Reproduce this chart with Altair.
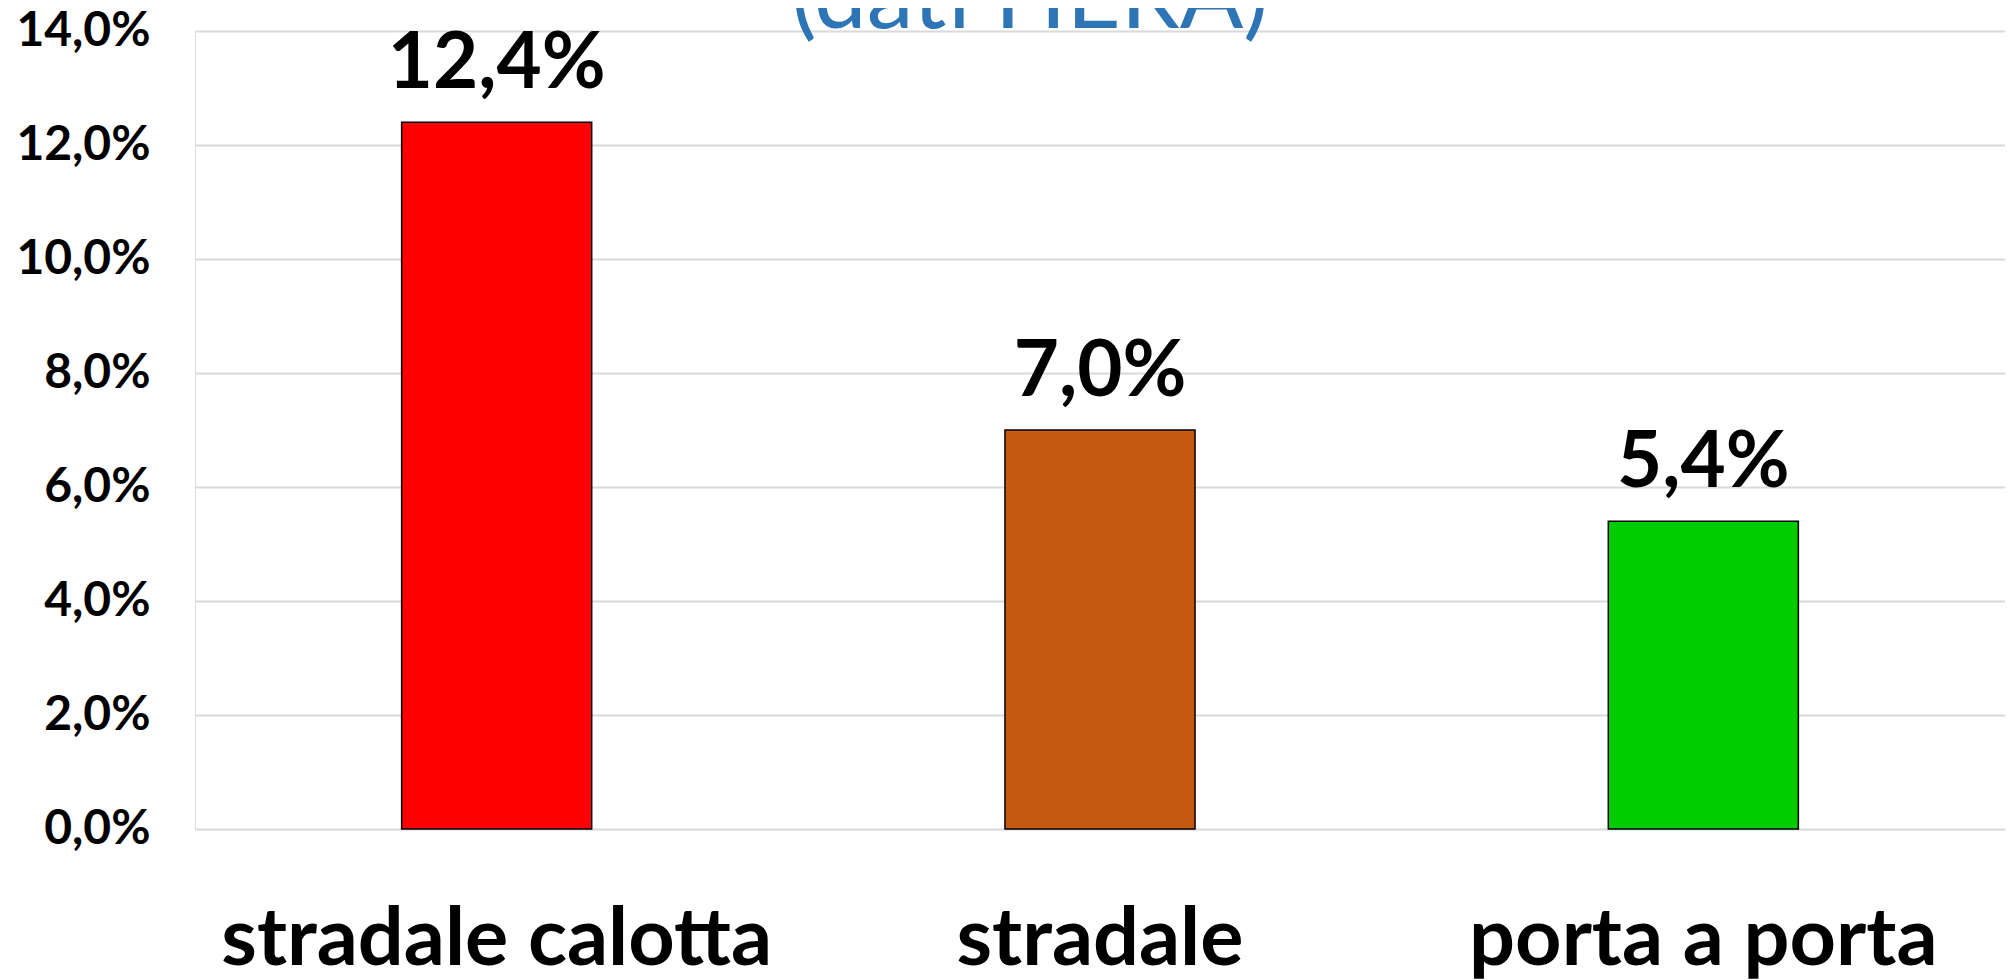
import altair as alt
import pandas as pd

categories = ["stradale calotta", "stradale", "porta a porta"]
values = [12.4, 7.0, 5.4]
colors = ["#FF0000", "#C55A11", "#00CC00"]
y_ticks = [0, 2, 4, 6, 8, 10, 12, 14]
title_text = "(dati HERA)"

df = pd.DataFrame({"cat": categories, "val": values, "col": colors})
df["lab"] = [f"{v:.1f}".replace(".", ",") + "%" for v in values]

W = 1810
H = 798

x_enc = alt.X(
    "cat:N",
    sort=categories,
    scale=alt.Scale(paddingInner=0.685, paddingOuter=0.3425),
    axis=alt.Axis(
        title=None, labelAngle=0, ticks=False, domain=False, grid=False,
        labelFont="Lato", labelFontWeight="bold", labelFontSize=81,
        labelColor="#000000", labelPadding=135, labelBaseline="alphabetic",
        labelLimit=0, labelOverlap=False,
    ),
)
y_enc = alt.Y(
    "val:Q",
    scale=alt.Scale(domain=[0, 14], nice=False),
    axis=alt.Axis(
        title=None, values=y_ticks, ticks=False, domain=False,
        gridColor="#D9D9D9", gridWidth=2,
        labelFont="Lato", labelFontWeight="bold", labelFontSize=48,
        labelColor="#000000", labelPadding=45,
        labelExpr="replace(format(datum.value, '.1f'), '.', ',') + '%'",
    ),
)

bars = alt.Chart(df).mark_bar(stroke="#000000", strokeWidth=1.5).encode(
    x=x_enc,
    y=y_enc,
    color=alt.Color("col:N", scale=None),
)

labels = alt.Chart(df).mark_text(
    font="Lato", fontWeight="bold", fontSize=78, color="#000000",
    baseline="alphabetic", dy=-34,
).encode(x=alt.X("cat:N", sort=categories), y="val:Q", text="lab:N")

title = alt.Chart(pd.DataFrame({"t": [title_text]})).mark_text(
    font="Lato", fontSize=94, color="#2E75B6", baseline="alphabetic", align="center",
).encode(x=alt.value(835), y=alt.value(-3), text="t:N")

chart = alt.layer(bars, labels, title).properties(
    width=W, height=H,
    autosize=alt.AutoSizeParams(type="none"),
    padding={"left": 187, "top": 23, "right": 0, "bottom": 151},
).configure_view(stroke=None).configure(background="white")

chart.save("out.html", embed_options={"renderer": "svg", "actions": False})
